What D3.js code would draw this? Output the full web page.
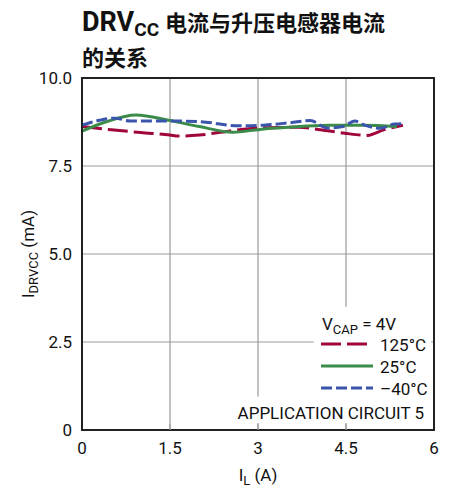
<!DOCTYPE html>
<html>
<head>
<meta charset="utf-8">
<script src="https://cdn.jsdelivr.net/npm/d3@7"></script>
<style>
  body { margin: 0; background: #fff; }
  text { font-family: Roboto, "Liberation Sans Narrow", sans-serif; }
  .cjk { font-family: "Noto Sans CJK SC", sans-serif; }
</style>
</head>
<body>
<svg id="chart"></svg>
<script>
// data (I_L in A, I_DRVCC in mA)
const xTicks = [0, 1.5, 3, 4.5, 6];
const yTicks = [0, 2.5, 5, 7.5, 10];
const yTickLabels = ["0", "2.5", "5.0", "7.5", "10.0"];

const il125 = [0, 0.5, 1.0, 1.5, 1.64, 2.0, 2.5, 3.0, 3.7, 4.06, 4.48, 4.87, 5.13, 5.47];
const i125  = [8.62, 8.53, 8.45, 8.38, 8.35, 8.38, 8.49, 8.58, 8.6, 8.53, 8.43, 8.37, 8.52, 8.66];

const il25 = [0, 0.4, 0.92, 1.5, 2.0, 2.57, 3.03, 3.72, 4.23, 4.8, 5.37];
const i25  = [8.49, 8.75, 8.95, 8.79, 8.62, 8.46, 8.54, 8.62, 8.66, 8.66, 8.62];

const il40 = [0, 0.3, 0.56, 0.82, 1.5, 2.01, 2.69, 3.1, 3.55, 3.89, 4.18, 4.45, 4.65, 4.82, 5.08, 5.33, 5.47];
const i40  = [8.66, 8.8, 8.86, 8.78, 8.78, 8.76, 8.64, 8.66, 8.73, 8.79, 8.58, 8.62, 8.78, 8.66, 8.57, 8.69, 8.7];

const series = [
  { name: "125°C", x: il125, y: i125, color: "#a0063c", dash: "20,6" },
  { name: "25°C",  x: il25,  y: i25,  color: "#3b8c48", dash: null },
  { name: "–40°C", x: il40,  y: i40,  color: "#3a55ab", dash: "11,4" }
];

const W = 454, H = 492;
const margin = { top: 78, right: 20, bottom: 62, left: 82 };
const width = W - margin.left - margin.right;
const height = H - margin.top - margin.bottom;

const svg = d3.select("#chart").attr("width", W).attr("height", H);

// title
const title = svg.append("text").attr("x", 82).attr("y", 31)
  .attr("font-weight", "bold").attr("fill", "#111");
title.append("tspan").attr("font-size", 27).text("DRV");
title.append("tspan").attr("font-size", 19).attr("dy", 5).text("CC");
title.append("tspan").attr("class", "cjk").attr("font-size", 22).attr("dy", -5).attr("dx", 6).text("电流与升压电感器电流");
svg.append("text").attr("class", "cjk").attr("x", 82).attr("y", 66)
  .attr("font-weight", "bold").attr("font-size", 22).attr("fill", "#111").text("的关系");

const x = d3.scaleLinear().domain([0, 6]).range([0, width]);
const y = d3.scaleLinear().domain([0, 10]).range([height, 0]);

const plot = svg.append("g").attr("transform", `translate(${margin.left},${margin.top})`);

// grid
plot.append("g").selectAll("line").data(xTicks.slice(1, -1)).join("line")
  .attr("x1", d => x(d)).attr("x2", d => x(d)).attr("y1", 0).attr("y2", height)
  .attr("stroke", "#999").attr("stroke-width", 1.2);
plot.append("g").selectAll("line").data(yTicks.slice(1, -1)).join("line")
  .attr("x1", 0).attr("x2", width).attr("y1", d => y(d)).attr("y2", d => y(d))
  .attr("stroke", "#999").attr("stroke-width", 1.2);

// curves
const line = d3.line().curve(d3.curveMonotoneX);
series.forEach(s => {
  const pts = s.x.map((v, i) => [x(v), y(s.y[i])]);
  plot.append("path").attr("d", line(pts)).attr("fill", "none")
    .attr("stroke", s.color).attr("stroke-width", 3)
    .attr("stroke-dasharray", s.dash);
});

// legend box (white, hides grid)
const lg = plot.append("g");
lg.append("rect").attr("x", x(3.95)).attr("y", y(3.5)).attr("width", x(5.95) - x(3.95))
  .attr("height", y(0.2) - y(3.5)).attr("fill", "#fff");
lg.append("rect").attr("x", x(2.6)).attr("y", y(0.95)).attr("width", x(5.95) - x(2.6))
  .attr("height", y(0.2) - y(0.95)).attr("fill", "#fff");

const lx = 321 - margin.left;
const vcap = lg.append("text").attr("x", 322 - margin.left).attr("y", 330 - margin.top)
  .attr("font-size", 17).attr("fill", "#111");
vcap.append("tspan").text("V");
vcap.append("tspan").attr("font-size", 13).attr("dy", 4).text("CAP");
vcap.append("tspan").attr("dy", -4).text(" = 4V");
series.forEach((s, i) => {
  const yy = 344 + i * 22 - margin.top;
  lg.append("line").attr("x1", lx).attr("x2", lx + 52).attr("y1", yy).attr("y2", yy)
    .attr("stroke", s.color).attr("stroke-width", 3).attr("stroke-dasharray", s.dash);
  lg.append("text").attr("x", 380 - margin.left).attr("y", yy + 7).attr("font-size", 17)
    .attr("fill", "#111").text(s.name);
});
lg.append("text").attr("x", 424 - margin.left).attr("y", 419 - margin.top)
  .attr("text-anchor", "end").attr("font-size", 17).attr("fill", "#111")
  .text("APPLICATION CIRCUIT 5");

// axes: frame + ticks
plot.append("rect").attr("width", width).attr("height", height)
  .attr("fill", "none").attr("stroke", "#222").attr("stroke-width", 2);
plot.append("g").selectAll("line").data(xTicks.slice(1, -1)).join("line")
  .attr("x1", d => x(d)).attr("x2", d => x(d)).attr("y1", height - 6).attr("y2", height)
  .attr("stroke", "#999").attr("stroke-width", 1.2);

plot.append("g").selectAll("text").data(xTicks).join("text")
  .attr("x", d => x(d)).attr("y", height + 24).attr("text-anchor", "middle")
  .attr("font-size", 17).attr("fill", "#111").text(d => d);
plot.append("g").selectAll("text").data(yTicks).join("text")
  .attr("x", -10).attr("y", d => y(d) + 6).attr("text-anchor", "end")
  .attr("font-size", 17).attr("fill", "#111").text((d, i) => yTickLabels[i]);

// axis labels
const xl = svg.append("text").attr("x", margin.left + width / 2).attr("y", 481)
  .attr("text-anchor", "middle").attr("font-size", 17).attr("fill", "#111");
xl.append("tspan").text("I");
xl.append("tspan").attr("font-size", 13).attr("dy", 4).text("L");
xl.append("tspan").attr("dy", -4).text(" (A)");

const yl = svg.append("text").attr("transform", `translate(34,${margin.top + height / 2}) rotate(-90)`)
  .attr("text-anchor", "middle").attr("font-size", 17).attr("fill", "#111");
yl.append("tspan").text("I");
yl.append("tspan").attr("font-size", 13).attr("dy", 4).text("DRVCC");
yl.append("tspan").attr("dy", -4).text(" (mA)");
</script>
</body>
</html>
